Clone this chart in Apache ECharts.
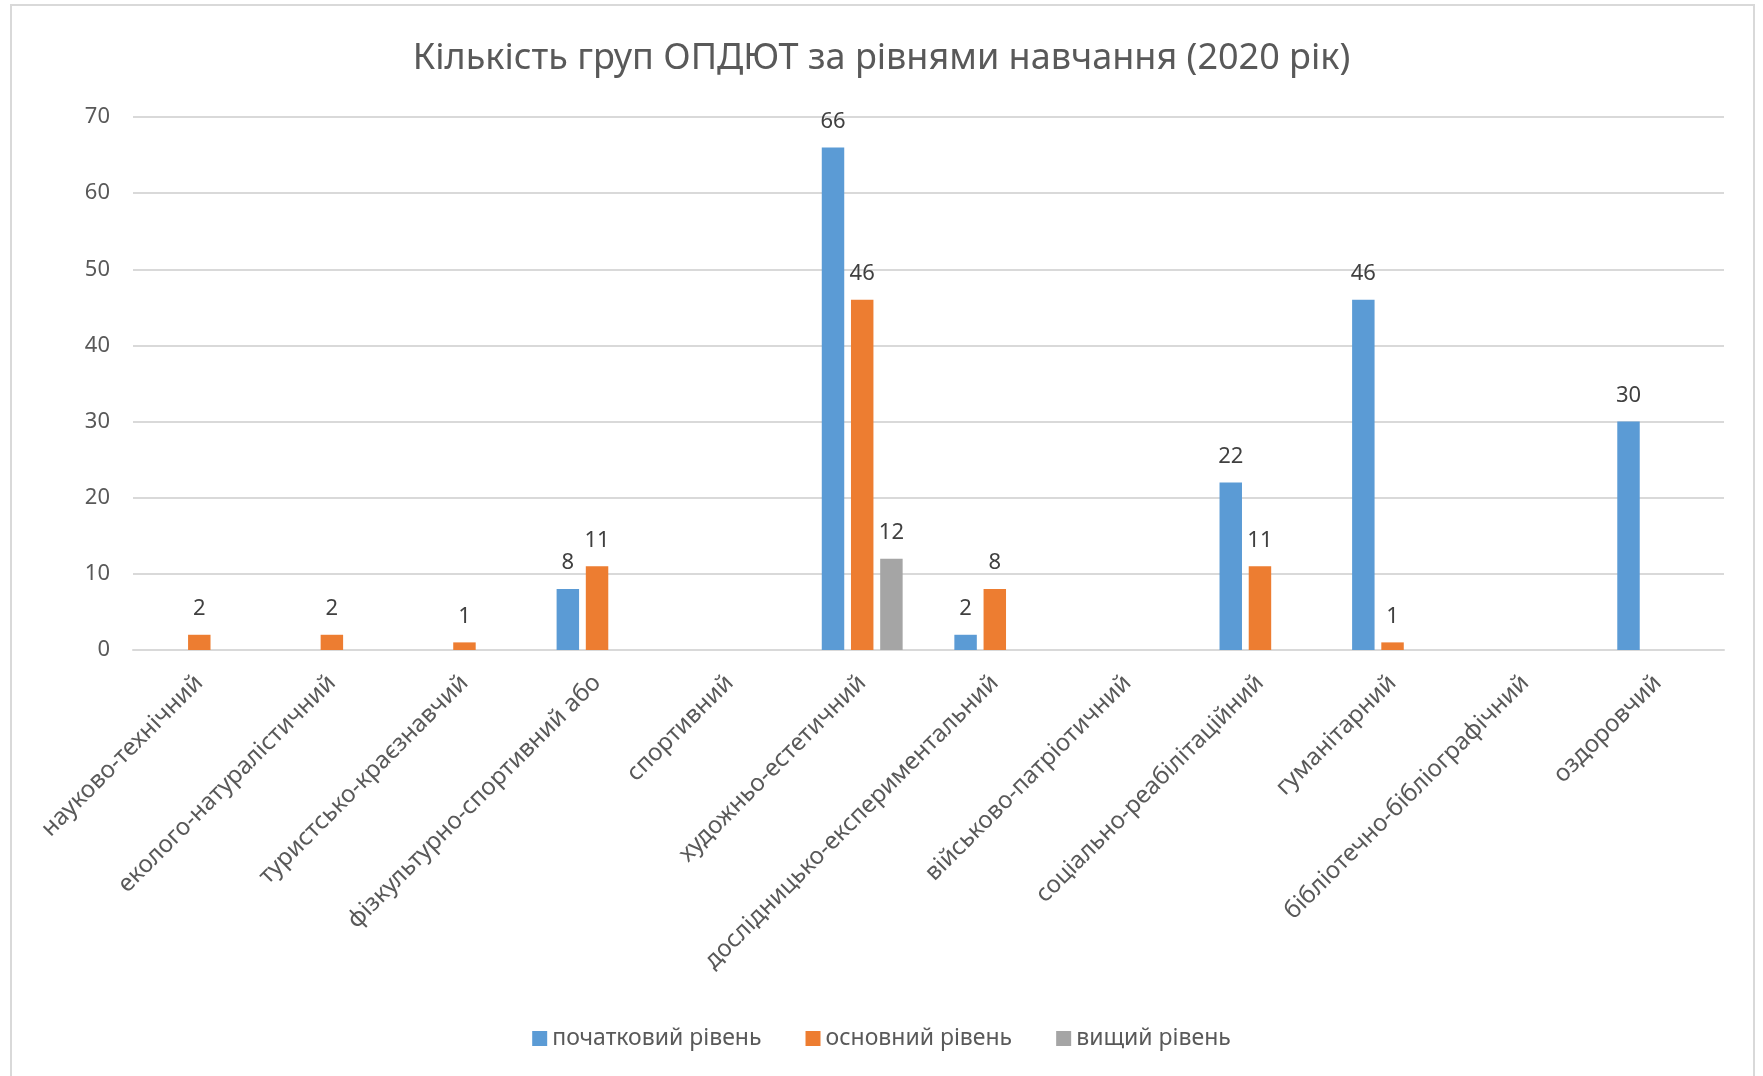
<!DOCTYPE html>
<html>
<head>
<meta charset="utf-8">
<script src="https://cdn.jsdelivr.net/npm/echarts@6/dist/echarts.min.js"></script>
<style>
  html, body { margin: 0; padding: 0; background: #fff; overflow: hidden; }
  #frame {
    position: absolute; left: 10px; top: 4px; width: 1745px; height: 1200px;
    border: 2px solid #d9d9d9; box-sizing: border-box;
  }
  #chart { position: absolute; left: 0; top: 0; width: 1763px; height: 1076px; }
</style>
</head>
<body>
<div id="frame"></div>
<div id="chart"></div>
<script>
const categories = [
  'науково-технічний',
  'еколого-натуралістичний',
  'туристсько-краєзнавчий',
  'фізкультурно-спортивний або',
  'спортивний',
  'художньо-естетичний',
  'дослідницько-експериментальний',
  'військово-патріотичний',
  'соціально-реабілітаційний',
  'гуманітарний',
  'бібліотечно-бібліографічний',
  'оздоровчий'
]
const seriesNames = ['початковий рівень', 'основний рівень', 'вищий рівень']
const initialLevel = [null, null, null, 8, null, 66, 2, null, 22, 46, null, 30]
const basicLevel = [2, 2, 1, 11, null, 46, 8, null, 11, 1, null, null]
const higherLevel = [null, null, null, null, null, 12, null, null, null, null, null, null]

const colors = ['#5B9BD5', '#ED7D31', '#A5A5A5']
const fontFamily = '"Noto Sans", "Open Sans", sans-serif'

const chart = echarts.init(document.getElementById('chart'))

function makeSeries(name, data, color) {
  return {
    name: name,
    type: 'bar',
    data: data,
    barGap: '30%',
    barCategoryGap: '39%',
    itemStyle: { color: color },
    label: {
      show: true,
      position: 'top',
      distance: 15,
      color: '#404040',
      fontSize: 22,
      fontFamily: fontFamily
    }
  }
}

const option = {
  backgroundColor: 'transparent',
  animation: false,
  color: colors,
  title: {
    text: 'Кількість груп ОПДЮТ за рівнями навчання (2020 рік)',
    left: 'center',
    top: 36,
    textStyle: {
      color: '#595959',
      fontSize: 36,
      fontWeight: 'normal',
      fontFamily: fontFamily
    }
  },
  legend: {
    data: seriesNames,
    top: 1022,
    left: 'center',
    itemWidth: 15,
    itemHeight: 15,
    itemGap: 44,
    icon: 'rect',
    textStyle: { color: '#595959', fontSize: 23, fontFamily: fontFamily }
  },
  grid: {
    left: 133,
    right: 39,
    top: 117,
    bottom: 426
  },
  xAxis: {
    type: 'category',
    data: categories,
    axisLine: { lineStyle: { color: '#d9d9d9', width: 2 } },
    axisTick: { show: false },
    axisLabel: {
      interval: 0,
      rotate: 45,
      margin: 29,
      color: '#595959',
      fontSize: 24,
      fontFamily: fontFamily
    }
  },
  yAxis: {
    type: 'value',
    min: 0,
    max: 70,
    interval: 10,
    axisLine: { show: false },
    axisTick: { show: false },
    splitLine: { lineStyle: { color: '#d9d9d9', width: 2 } },
    axisLabel: {
      margin: 23,
      color: '#595959',
      fontSize: 22,
      fontFamily: fontFamily
    }
  },
  series: [
    makeSeries(seriesNames[0], initialLevel, colors[0]),
    makeSeries(seriesNames[1], basicLevel, colors[1]),
    makeSeries(seriesNames[2], higherLevel, colors[2])
  ]
}

chart.setOption(option)
</script>
</body>
</html>
